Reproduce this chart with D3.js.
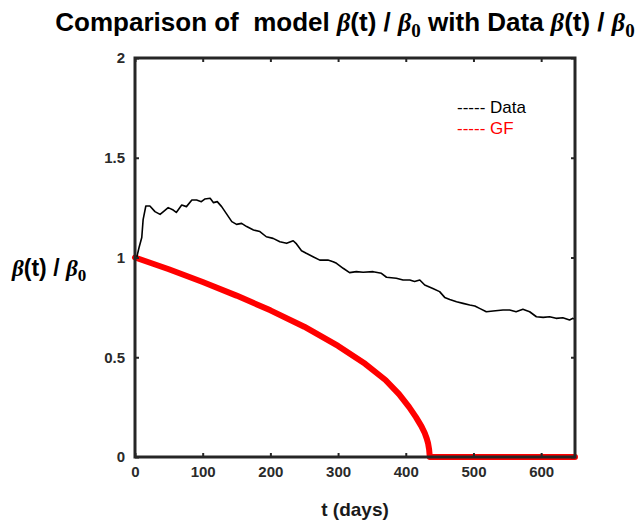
<!DOCTYPE html>
<html>
<head>
<meta charset="utf-8">
<script src="https://cdn.jsdelivr.net/npm/d3@7"></script>
<style>
  html, body { margin: 0; padding: 0; background: #fff; }
  svg { display: block; }
  text { white-space: pre; }
</style>
</head>
<body>
<svg id="chart" width="639" height="522"></svg>
<script>
// ---- data ----
const dataT = [0, 2.5, 6, 10, 12, 16, 22, 29.5, 37, 42, 49, 56.5, 61, 69, 76, 84, 91, 98, 103, 111, 116, 121.5, 128, 135, 143, 150, 157.5, 165, 175, 184.5, 194, 204, 214, 224, 233.7, 238.6, 246, 253, 263, 273, 285, 292.7, 297.7, 307.5, 317, 327, 337, 351.8, 364, 371.5, 386, 396, 406, 413, 420.7, 428, 440, 450, 457.5, 465, 475, 484.6, 494.5, 502, 509, 519, 529, 543.6, 553.5, 563, 573, 583, 593, 603, 612.5, 622, 632, 642, 647, 650];
const dataV = [1.0, 1.0, 1.05, 1.10, 1.19, 1.258, 1.258, 1.23, 1.216, 1.23, 1.25, 1.238, 1.226, 1.263, 1.255, 1.288, 1.288, 1.28, 1.293, 1.297, 1.275, 1.28, 1.255, 1.22, 1.18, 1.166, 1.171, 1.155, 1.138, 1.13, 1.104, 1.096, 1.079, 1.071, 1.084, 1.068, 1.034, 1.021, 1.004, 0.987, 0.987, 0.979, 0.971, 0.946, 0.924, 0.929, 0.926, 0.929, 0.921, 0.901, 0.896, 0.887, 0.887, 0.880, 0.887, 0.862, 0.845, 0.829, 0.80, 0.79, 0.778, 0.77, 0.762, 0.757, 0.745, 0.728, 0.732, 0.737, 0.737, 0.728, 0.74, 0.728, 0.703, 0.70, 0.703, 0.695, 0.698, 0.687, 0.695, 0.69];
const gfT = [0, 50, 100, 150, 200, 250, 300, 340, 370, 390, 405, 415, 423, 428, 431, 433, 434.5, 435.5, 500, 650];
const gfV = [1.0, 0.941, 0.877, 0.809, 0.735, 0.653, 0.557, 0.467, 0.386, 0.315, 0.25, 0.2, 0.155, 0.12, 0.092, 0.068, 0.038, 0.0, 0.0, 0.0];
const xTicks = [0, 100, 200, 300, 400, 500, 600];
const yTicks = [0, 0.5, 1, 1.5, 2];
const yTickLabels = ["0", "0.5", "1", "1.5", "2"];
const legendLabels = ["Data", "GF"];
const legendColors = ["#000000", "#ff0000"];

// ---- layout ----
const svg = d3.select("#chart");
const L = 135, R = 575, T = 58, B = 457;
const x = d3.scaleLinear().domain([0, 650]).range([L, R]);
const y = d3.scaleLinear().domain([0, 2]).range([B, T]);
const frame = "#262626";
const sans = "'Liberation Sans', Arial, Helvetica, sans-serif";
const serif = "'Liberation Serif', 'Times New Roman', serif";

// red GF curve
svg.append("path")
  .datum(gfT.map((t, i) => [t, gfV[i]]))
  .attr("fill", "none")
  .attr("stroke", "#ff0000")
  .attr("stroke-width", 6)
  .attr("stroke-linecap", "round")
  .attr("stroke-linejoin", "round")
  .attr("d", d3.line().x(d => x(d[0])).y(d => y(d[1])));

// data line
svg.append("path")
  .datum(dataT.map((t, i) => [t, dataV[i]]))
  .attr("fill", "none")
  .attr("stroke", "#000")
  .attr("stroke-width", 1.6)
  .attr("stroke-linejoin", "round")
  .attr("d", d3.line().x(d => x(d[0])).y(d => y(d[1])));

// axes (box with inward ticks)
const axB = d3.axisBottom(x).tickValues(xTicks).tickSize(-4).tickPadding(9).tickFormat(d3.format("d"));
const axT = d3.axisTop(x).tickValues(xTicks).tickSize(-4).tickFormat("");
const axL = d3.axisLeft(y).tickValues(yTicks).tickSize(-4).tickPadding(10).tickFormat((d, i) => yTickLabels[i]);
const axR = d3.axisRight(y).tickValues(yTicks).tickSize(-4).tickFormat("");

function styleAxis(g) {
  g.select(".domain").remove();
  g.selectAll(".tick line").attr("stroke", frame).attr("stroke-width", 2);
  g.selectAll(".tick text").attr("fill", "#2a2a2a")
    .style("font-family", sans).style("font-size", "15px").style("font-weight", "bold");
}
svg.append("g").attr("transform", `translate(0,${B})`).call(axB).call(styleAxis);
svg.append("g").attr("transform", `translate(0,${T})`).call(axT).call(styleAxis);
svg.append("g").attr("transform", `translate(${L},0)`).call(axL).call(styleAxis);
svg.append("g").attr("transform", `translate(${R},0)`).call(axR).call(styleAxis);

svg.append("rect")
  .attr("x", L).attr("y", T).attr("width", R - L).attr("height", B - T)
  .attr("fill", "none").attr("stroke", frame).attr("stroke-width", 3);

// title
function addBeta(el, subSize, dy) {
  el.append("tspan").style("font-family", serif).style("font-style", "italic").text("β");
  el.append("tspan").text("(t) / ");
  el.append("tspan").style("font-family", serif).style("font-style", "italic").text("β");
  el.append("tspan").style("font-family", serif).style("font-size", subSize + "px").attr("dy", dy).text("0");
}
const title = svg.append("text")
  .attr("x", 345).attr("y", 31)
  .attr("text-anchor", "middle")
  .style("font-family", sans).style("font-size", "26px").style("font-weight", "bold")
  .attr("fill", "#000");
title.append("tspan").text("Comparison of  model ");
addBeta(title, 19, 6);
title.append("tspan").attr("dy", -6).text(" with Data ");
addBeta(title, 19, 6);

// y label
const ylab = svg.append("text")
  .attr("x", 12).attr("y", 276)
  .style("font-family", sans).style("font-size", "23px").style("font-weight", "bold")
  .attr("fill", "#000");
addBeta(ylab, 17, 5);

// x label
svg.append("text")
  .attr("x", 355).attr("y", 516)
  .attr("text-anchor", "middle")
  .style("font-family", sans).style("font-size", "19px").style("font-weight", "bold")
  .attr("fill", "#1a1a1a")
  .text("t (days)");

// legend
const leg = svg.append("g");
legendLabels.forEach((lab, i) => {
  leg.append("text")
    .attr("x", 457).attr("y", 113 + i * 21)
    .style("font-family", sans).style("font-size", "17px")
    .attr("fill", legendColors[i])
    .text("----- " + lab);
});
</script>
</body>
</html>
